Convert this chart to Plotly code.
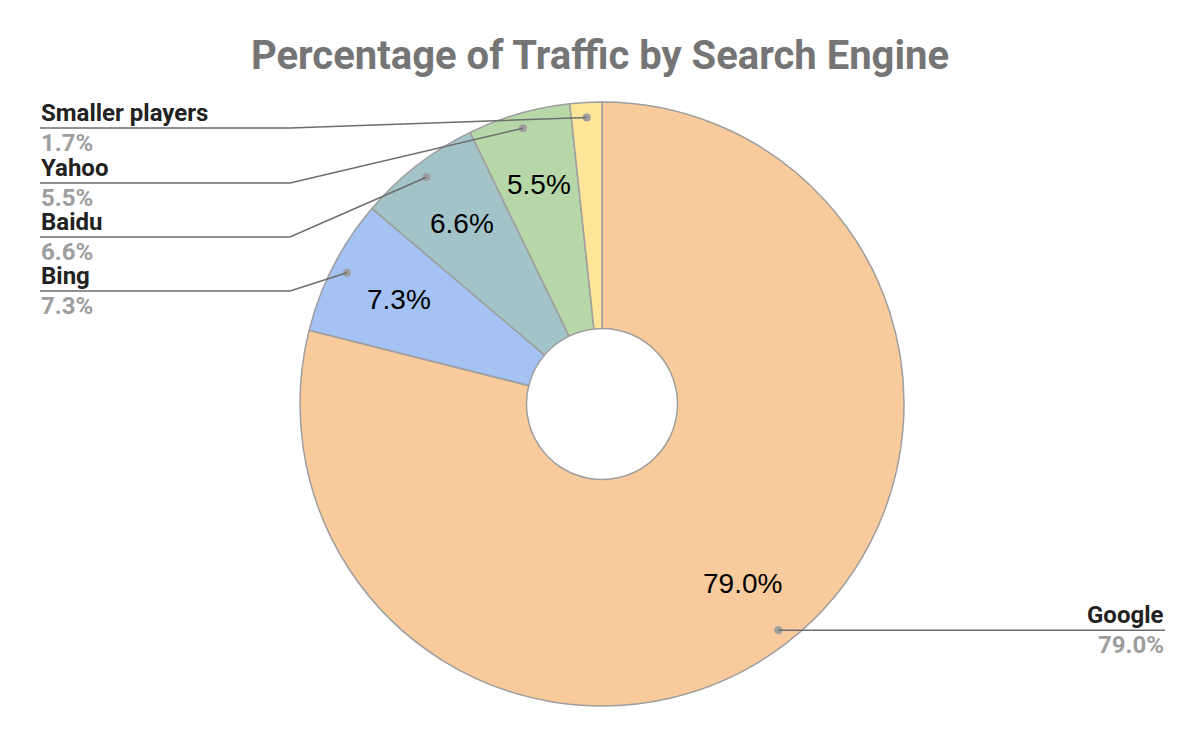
import math
import plotly.graph_objects as go

# data
engines = ["Google", "Bing", "Baidu", "Yahoo", "Smaller players"]
shares = [79.0, 7.3, 6.6, 5.5, 1.7]
colors = ["#f9cb9c", "#a4c2f4", "#a2c4c9", "#b6d7a8", "#ffe599"]
inside_min = 3.0  # slices smaller than this get no inside label

W, H = 1200, 744
cx, cy, R = 602, 404, 302   # pie centre / radius in pixels


def px(x):
    return x / W


def py(y):
    return 1 - y / H


fig = go.Figure(go.Pie(
    labels=engines,
    values=shares,
    textinfo="none",
    hole=0.25,
    sort=False,
    direction="clockwise",
    rotation=0,
    marker=dict(colors=colors, line=dict(color="#9e9e9e", width=1.5)),
    domain=dict(x=[px(cx - R), px(cx + R)], y=[py(cy + R), py(cy - R)]),
    showlegend=False,
    hoverinfo="label+percent",
))

# leader lines, dots, inside and outside labels
shapes = []
annotations = []
total = sum(shares)
cum = 0.0
left_rows = {"Smaller players": 128, "Yahoo": 183, "Baidu": 237, "Bing": 291}
for name, v in zip(engines, shares):
    mid = (cum + v / 2) / total * 2 * math.pi
    cum += v
    sx, sy = math.sin(mid), -math.cos(mid)
    dx, dy = cx + 0.95 * R * sx, cy + 0.95 * R * sy

    if v >= inside_min:
        annotations.append(dict(x=px(cx + 0.755 * R * sx), y=py(cy + 0.755 * R * sy),
                                xref="paper", yref="paper", showarrow=False,
                                xanchor="center", yanchor="middle",
                                text=f"{v:.1f}%",
                                font=dict(family="Arial, Liberation Sans", size=28,
                                          color="#000000")))

    shapes.append(dict(type="circle", xref="paper", yref="paper",
                       x0=px(dx - 4), x1=px(dx + 4), y0=py(dy + 4), y1=py(dy - 4),
                       fillcolor="#9e9e9e", line=dict(width=0)))
    if name in left_rows:
        ly = left_rows[name]
        x_start, x_elbow = 40, 290
        shapes.append(dict(type="path", xref="paper", yref="paper",
                           path=f"M {px(x_start)},{py(ly)} L {px(x_elbow)},{py(ly)} L {px(dx)},{py(dy)}",
                           line=dict(color="#6d6d6d", width=1.5)))
        xa, anchor = px(x_start), "left"
    else:
        ly = dy
        x_end = 1165
        shapes.append(dict(type="line", xref="paper", yref="paper",
                           x0=px(dx), x1=px(x_end), y0=py(ly), y1=py(ly),
                           line=dict(color="#6d6d6d", width=1.5)))
        xa, anchor = px(x_end), "right"
    annotations.append(dict(x=xa, y=py(ly), xref="paper", yref="paper",
                            xanchor=anchor, yanchor="bottom", showarrow=False,
                            text=f"<b>{name}</b>", borderpad=0,
                            font=dict(family="Roboto", size=24, color="#222222")))
    annotations.append(dict(x=xa, y=py(ly), xref="paper", yref="paper",
                            xanchor=anchor, yanchor="top", showarrow=False,
                            text=f"<b>{v:.1f}%</b>", borderpad=0,
                            font=dict(family="Roboto", size=24, color="#9e9e9e")))

fig.update_layout(
    width=W, height=H,
    margin=dict(l=0, r=0, t=0, b=0),
    paper_bgcolor="white",
    title=dict(text="<b>Percentage of Traffic by Search Engine</b>",
               x=0.5, xanchor="center", y=py(55), yanchor="middle",
               font=dict(family="Roboto", size=40, color="#757575")),
    shapes=shapes,
    annotations=annotations,
)

fig.write_html("out.html", config={"displayModeBar": False},
               post_script="document.body.style.margin='0';")
